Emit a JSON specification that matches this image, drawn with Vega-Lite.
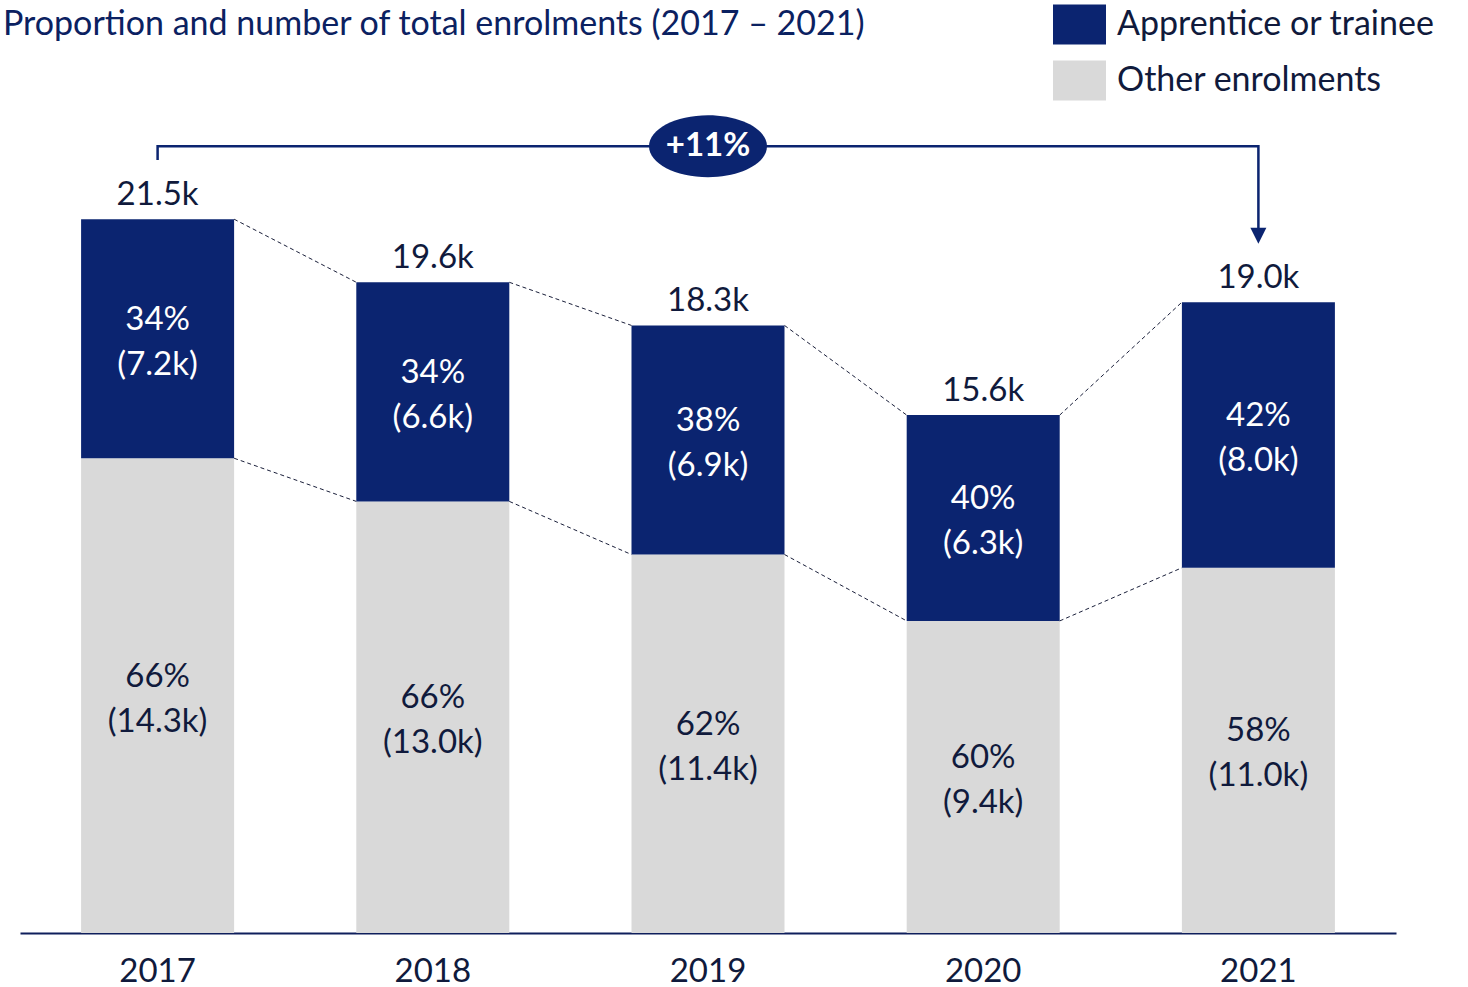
{
  "$schema": "https://vega.github.io/schema/vega-lite/v6.json",
  "width": 1376,
  "height": 830,
  "autosize": "none",
  "padding": {"left": 20, "top": 103, "right": 72, "bottom": 54},
  "background": "white",
  "title": {
    "text": "Proportion and number of total enrolments (2017 – 2021)",
    "anchor": "start",
    "frame": "group",
    "dx": -17,
    "offset": 0,
    "dy": 71,
    "baseline": "alphabetic",
    "font": "Lato",
    "fontSize": 34,
    "fontWeight": "normal",
    "color": "#0b2161"
  },
  "config": {
    "view": {"stroke": null},
    "font": "Lato"
  },
  "datasets": {
    "enrol": [
      {"year": "2017", "appr": 7.2, "other": 14.3, "total": 21.5, "apprPct": 34, "otherPct": 66},
      {"year": "2018", "appr": 6.6, "other": 13.0, "total": 19.6, "apprPct": 34, "otherPct": 66},
      {"year": "2019", "appr": 6.9, "other": 11.4, "total": 18.3, "apprPct": 38, "otherPct": 62},
      {"year": "2020", "appr": 6.3, "other": 9.4, "total": 15.6, "apprPct": 40, "otherPct": 60},
      {"year": "2021", "appr": 8.0, "other": 11.0, "total": 19.0, "apprPct": 42, "otherPct": 58}
    ],
    "bracket": [
      {"year": "2017", "v": 23.28, "o": 1},
      {"year": "2017", "v": 23.7, "o": 2},
      {"year": "2021", "v": 23.7, "o": 3},
      {"year": "2021", "v": 21.0, "o": 4}
    ],
    "arrow": [{"year": "2021", "v": 21.0}],
    "change": [{"year": "2019", "v": 23.7, "label": "+11%"}]
  },
  "data": {"name": "enrol"},
  "layer": [
    {
      "mark": {"type": "bar"},
      "encoding": {
        "x": {
          "field": "year",
          "type": "ordinal",
          "scale": {"paddingInner": 0.444, "paddingOuter": 0.222},
          "axis": {
            "title": null,
            "ticks": false,
            "domainColor": "#0f1f5c",
            "domainWidth": 2,
            "labelFont": "Lato",
            "labelFontSize": 33,
            "labelColor": "#101a3c",
            "labelPadding": 22,
            "labelAngle": 0
          }
        },
        "y": {
          "field": "other",
          "type": "quantitative",
          "scale": {"domain": [0, 25], "nice": false},
          "axis": null
        },
        "color": {
          "datum": "Other enrolments",
          "type": "nominal",
          "scale": {
            "domain": ["Apprentice or trainee", "Other enrolments"],
            "range": ["#0b2470", "#d9d9d9"]
          },
          "legend": {
            "title": null,
            "orient": "none",
            "legendX": 1033,
            "legendY": -105,
            "symbolType": "M-1,-0.755H1V0.755H-1Z",
            "symbolSize": 2809,
            "symbolStrokeWidth": 0,
            "symbolOpacity": 1,
            "labelFont": "Lato",
            "labelFontSize": 34,
            "labelColor": "#101a3c",
            "labelOffset": 11,
            "rowPadding": 9,
            "labelLimit": 500
          }
        }
      }
    },
    {
      "mark": {"type": "bar"},
      "encoding": {
        "x": {"field": "year", "type": "ordinal"},
        "y": {"field": "total", "type": "quantitative"},
        "y2": {"field": "other"},
        "color": {"datum": "Apprentice or trainee", "type": "nominal"}
      }
    },
    {
      "transform": [
        {"window": [
          {"op": "lead", "field": "year", "as": "nextYear"},
          {"op": "lead", "field": "total", "as": "nextTotal"},
          {"op": "lead", "field": "other", "as": "nextOther"}
        ]},
        {"filter": "datum.nextYear != null"}
      ],
      "layer": [
        {
          "mark": {"type": "rule", "color": "#1a1f3a", "strokeWidth": 1, "strokeDash": [4, 3]},
          "encoding": {
            "x": {"field": "year", "type": "ordinal", "bandPosition": 1},
            "x2": {"field": "nextYear", "bandPosition": 0},
            "y": {"field": "total", "type": "quantitative"},
            "y2": {"field": "nextTotal"}
          }
        },
        {
          "mark": {"type": "rule", "color": "#1a1f3a", "strokeWidth": 1, "strokeDash": [4, 3]},
          "encoding": {
            "x": {"field": "year", "type": "ordinal", "bandPosition": 1},
            "x2": {"field": "nextYear", "bandPosition": 0},
            "y": {"field": "other", "type": "quantitative"},
            "y2": {"field": "nextOther"}
          }
        }
      ]
    },
    {
      "transform": [
        {"calculate": "(datum.other + datum.total) / 2", "as": "apprMid"},
        {"calculate": "datum.apprPct + '%\\n(' + format(datum.appr, '.1f') + 'k)'", "as": "apprLabel"}
      ],
      "mark": {"type": "text", "color": "white", "fontSize": 33, "lineHeight": 45, "baseline": "middle", "align": "center", "lineBreak": "\n", "font": "Lato", "dy": -19},
      "encoding": {
        "x": {"field": "year", "type": "ordinal"},
        "y": {"field": "apprMid", "type": "quantitative"},
        "text": {"field": "apprLabel"}
      }
    },
    {
      "transform": [
        {"calculate": "datum.other / 2", "as": "otherMid"},
        {"calculate": "datum.otherPct + '%\\n(' + format(datum.other, '.1f') + 'k)'", "as": "otherLabel"}
      ],
      "mark": {"type": "text", "color": "#101a3c", "fontSize": 33, "lineHeight": 45, "baseline": "middle", "align": "center", "lineBreak": "\n", "font": "Lato", "dy": -19},
      "encoding": {
        "x": {"field": "year", "type": "ordinal"},
        "y": {"field": "otherMid", "type": "quantitative"},
        "text": {"field": "otherLabel"}
      }
    },
    {
      "transform": [
        {"calculate": "format(datum.total, '.1f') + 'k'", "as": "totalLabel"}
      ],
      "mark": {"type": "text", "color": "#101a3c", "fontSize": 33, "baseline": "alphabetic", "align": "center", "dy": -14, "font": "Lato"},
      "encoding": {
        "x": {"field": "year", "type": "ordinal"},
        "y": {"field": "total", "type": "quantitative"},
        "text": {"field": "totalLabel"}
      }
    },
    {
      "data": {"name": "bracket"},
      "mark": {"type": "line", "color": "#0b2470", "strokeWidth": 2.5},
      "encoding": {
        "x": {"field": "year", "type": "ordinal"},
        "y": {"field": "v", "type": "quantitative"},
        "order": {"field": "o"}
      }
    },
    {
      "data": {"name": "arrow"},
      "mark": {"type": "point", "shape": "M-1,-1L1,-1L0,1Z", "size": 256, "filled": true, "color": "#0b2470", "opacity": 1, "strokeWidth": 0},
      "encoding": {
        "x": {"field": "year", "type": "ordinal"},
        "y": {"field": "v", "type": "quantitative"}
      }
    },
    {
      "data": {"name": "change"},
      "mark": {"type": "point", "shape": "M-1,0A1,0.525,0,1,1,1,0A1,0.525,0,1,1,-1,0Z", "size": 13924, "filled": true, "color": "#0b2470", "opacity": 1, "strokeWidth": 0},
      "encoding": {
        "x": {"field": "year", "type": "ordinal"},
        "y": {"field": "v", "type": "quantitative"}
      }
    },
    {
      "data": {"name": "change"},
      "mark": {"type": "text", "color": "white", "fontSize": 33, "fontWeight": "bold", "baseline": "middle", "align": "center", "font": "Lato"},
      "encoding": {
        "x": {"field": "year", "type": "ordinal"},
        "y": {"field": "v", "type": "quantitative"},
        "text": {"field": "label"}
      }
    }
  ]
}
